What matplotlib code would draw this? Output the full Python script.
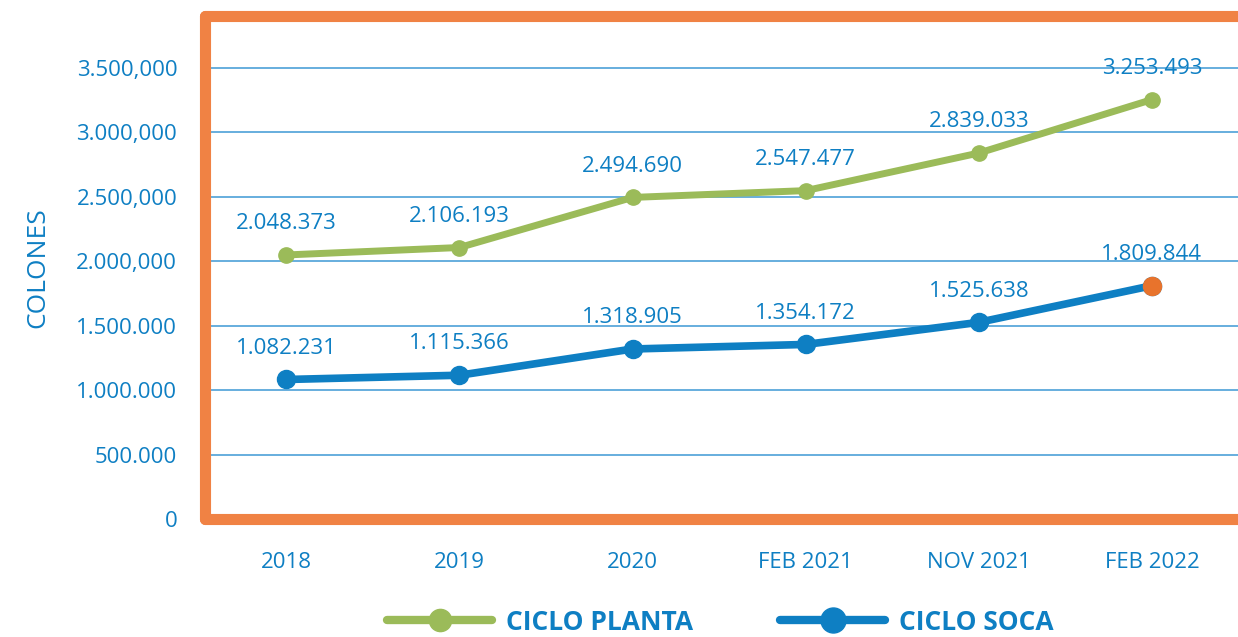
import matplotlib
matplotlib.use("Agg")
import matplotlib.pyplot as plt
from matplotlib.lines import Line2D

categories = ["2018", "2019", "2020", "FEB 2021", "NOV 2021", "FEB 2022"]
planta = [2048373, 2106193, 2494690, 2547477, 2839033, 3253493]
soca = [1082231, 1115366, 1318905, 1354172, 1525638, 1809844]
planta_labels = ["2.048.373", "2.106.193", "2.494.690", "2.547.477", "2.839.033", "3.253.493"]
soca_labels = ["1.082.231", "1.115.366", "1.318.905", "1.354.172", "1.525.638", "1.809.844"]
yticks = [0, 500000, 1000000, 1500000, 2000000, 2500000, 3000000, 3500000]
ytick_labels = ["0", "500.000", "1.000.000", "1.500.000", "2.000,000", "2.500,000", "3.000,000", "3.500,000"]

BLUE = "#0E7FC3"
GREEN = "#9BBB59"
ORANGE = "#F08244"
GRID = "#5AA8DB"
FONT = "Open Sans"

W, H = 1238, 637
fig = plt.figure(figsize=(W / 100, H / 100), dpi=100)
left, right, top, bottom = 205, 1250, 15.5, 519
ax = fig.add_axes([left / W, 1 - bottom / H, (right - left) / W, (bottom - top) / H])

x = list(range(len(categories)))
ax.set_xlim(-0.47, 5 + (1250 - 1152) / 173.0)
ax.set_ylim(0, 3906000)

ax.set_yticks(yticks)
ax.set_yticklabels(ytick_labels, fontsize=16, color=BLUE, family=FONT)
ax.set_xticks(x)
ax.set_xticklabels(categories, fontsize=16, color=BLUE, family=FONT)
ax.tick_params(axis="both", length=0)
ax.tick_params(axis="y", pad=20)
ax.tick_params(axis="x", pad=24)

ax.grid(axis="y", color=GRID, linewidth=1.3)
ax.set_axisbelow(True)

for side in ["left", "top", "bottom"]:
    ax.spines[side].set_color(ORANGE)
    ax.spines[side].set_linewidth(8)
    ax.spines[side].set_capstyle("round")
ax.spines["right"].set_visible(False)

ax.plot(x, planta, color=GREEN, linewidth=5, marker="o", markersize=11,
        markerfacecolor=GREEN, markeredgecolor=GREEN, zorder=3, solid_capstyle="round")
ax.plot(x, soca, color=BLUE, linewidth=5.5, marker="o", markersize=13,
        markerfacecolor=BLUE, markeredgecolor=BLUE, zorder=3, solid_capstyle="round")
ax.plot([x[-1]], [soca[-1]], linestyle="none", marker="o", markersize=13,
        markerfacecolor="#E8732C", markeredgecolor="#E8732C", zorder=4)

for xi, v, lab in zip(x, planta, planta_labels):
    ax.annotate(lab, (xi, v), xytext=(0, 15), textcoords="offset points",
                ha="center", va="bottom", fontsize=16, color=BLUE, family=FONT)
for xi, v, lab in zip(x, soca, soca_labels):
    ax.annotate(lab, (xi, v), xytext=(0, 15), textcoords="offset points",
                ha="center", va="bottom", fontsize=16, color=BLUE, family=FONT)

ax.set_ylabel("COLONES", fontsize=19, color=BLUE, family=FONT)
ax.yaxis.set_label_coords(-155 / (right - left), 0.5)

handles = [
    Line2D([], [], color=GREEN, linewidth=6, marker="o", markersize=16, solid_capstyle="round"),
    Line2D([], [], color=BLUE, linewidth=6, marker="o", markersize=18, solid_capstyle="round"),
]
leg = fig.legend(handles, ["CICLO PLANTA", "CICLO SOCA"], loc="center",
                 bbox_to_anchor=(720 / W, 1 - 622 / H), ncol=2, frameon=False,
                 handlelength=4.0, columnspacing=3.3, handletextpad=0.5,
                 prop={"family": FONT, "size": 19, "weight": "bold"})
for t in leg.get_texts():
    t.set_color(BLUE)

fig.savefig("out.png", dpi=100)
